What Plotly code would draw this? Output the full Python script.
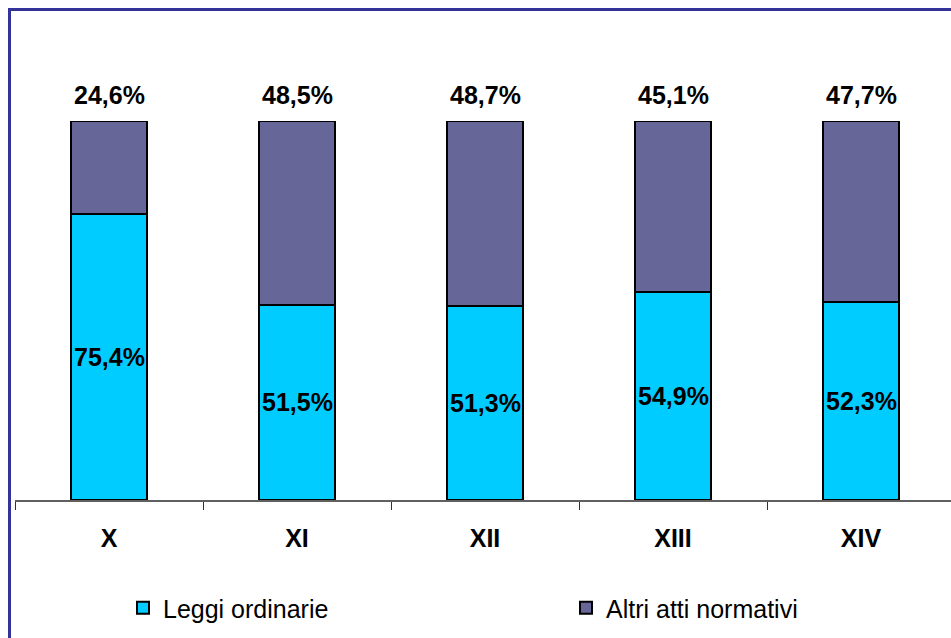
import plotly.graph_objects as go

categories = ["X", "XI", "XII", "XIII", "XIV"]
leggi_ordinarie = [75.4, 51.5, 51.3, 54.9, 52.3]
altri_atti = [24.6, 48.5, 48.7, 45.1, 47.7]
series_names = ["Leggi ordinarie", "Altri atti normativi"]

CYAN = "#00CCFF"
PURPLE = "#666699"
FRAME = "#333399"
FONT = "Arial, Liberation Sans, sans-serif"

def fmt(v):
    return f"{v:.1f}%".replace(".", ",")

fig = go.Figure()
fig.add_trace(go.Bar(x=categories, y=leggi_ordinarie, name=series_names[0], legend="legend",
                     marker=dict(color=CYAN, line=dict(color="black", width=2))))
fig.add_trace(go.Bar(x=categories, y=altri_atti, name=series_names[1], legend="legend2",
                     marker=dict(color=PURPLE, line=dict(color="black", width=2))))

annotations = []
for c, lo, hi in zip(categories, leggi_ordinarie, altri_atti):
    annotations.append(dict(x=c, y=lo / 2, text=fmt(lo), showarrow=False,
                            xref="x", yref="y", yanchor="middle",
                            font=dict(family=FONT, size=25, color="black", weight="bold")))
    annotations.append(dict(x=c, y=lo + hi, text=fmt(hi), showarrow=False,
                            xref="x", yref="y", yanchor="bottom", yshift=10,
                            font=dict(family=FONT, size=25, color="black", weight="bold")))

W, H = 951, 638
L, R, T, B = 15, 0, 121, 138
pw, ph = W - L - R, H - T - B

def px_x(p):
    return (p - L) / pw

def px_y(p):
    return (H - B - p) / ph

legend_common = dict(orientation="h", xanchor="left", yanchor="middle",
                     font=dict(family=FONT, size=25, color="black"),
                     bgcolor="rgba(0,0,0,0)", borderwidth=0)

fig.update_layout(
    width=W, height=H,
    margin=dict(l=L, r=R, t=T, b=B, pad=0, autoexpand=False),
    barmode="stack",
    bargap=0.596,
    plot_bgcolor="white",
    paper_bgcolor="white",
    font=dict(family=FONT, size=25, color="black"),
    showlegend=True,
    legend=dict(x=px_x(123), y=px_y(608), **legend_common),
    legend2=dict(x=px_x(566), y=px_y(608), **legend_common),
    annotations=annotations,
    shapes=[dict(type="rect", xref="paper", yref="paper",
                 x0=px_x(9.5), y0=px_y(700), x1=px_x(1000), y1=px_y(9.5),
                 line=dict(color=FRAME, width=3), fillcolor="rgba(0,0,0,0)", layer="below")],
    xaxis=dict(range=[-0.5, -0.5 + pw / 188.0], showline=True, linecolor="#606060", linewidth=2,
               ticks="outside", tickson="boundaries", ticklen=8, tickcolor="#303030", tickwidth=1,
               tickfont=dict(family=FONT, size=25, color="black", weight="bold"),
               ticklabelstandoff=15,
               showgrid=False, zeroline=False, fixedrange=True),
    yaxis=dict(range=[0, 100], visible=False, showgrid=False, fixedrange=True),
)

fig.write_html("out.html")
